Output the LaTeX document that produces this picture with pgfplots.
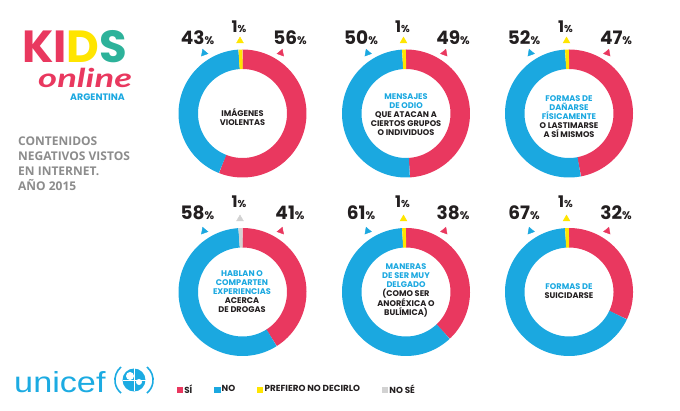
\documentclass[border=0pt]{standalone}
\usepackage{fontspec}
\usepackage{graphicx}
\usepackage{pgfplots}
\pgfplotsset{compat=1.18}
\setmainfont{Poppins}
\newfontfamily\osans{Open Sans}
\newfontfamily\lsans{Liberation Sans}
\newfontfamily\latof{Lato}
\definecolor{cred}{HTML}{E9385F}
\definecolor{cblue}{HTML}{1BA8E0}
\definecolor{cyel}{HTML}{FFE500}
\definecolor{cgray}{HTML}{D2D2D2}
\definecolor{cteal}{HTML}{2DB29A}
\definecolor{cdark}{HTML}{231F20}
\definecolor{ctitle}{HTML}{8C8C8C}
\definecolor{cuni}{HTML}{1CABE2}
% donut: cx, cy, end of SI, end of NO, colour of last slice
\newcommand{\donut}[5]{%
\addplot[forget plot, cred, line width=19.5pt, domain=0:#3, samples=90, variable=\t, no marks] ({#1+54.25*sin(3.6*t)},{#2-54.25*cos(3.6*t)});
\addplot[forget plot, cblue, line width=19.5pt, domain=#3:#4, samples=90, variable=\t, no marks] ({#1+54.25*sin(3.6*t)},{#2-54.25*cos(3.6*t)});
\addplot[forget plot, #5, line width=19.5pt, domain=#4:100, samples=4, variable=\t, no marks] ({#1+54.25*sin(3.6*t)},{#2-54.25*cos(3.6*t)});
}
\newcommand{\pbig}[1]{{\bfseries\fontsize{18.5}{18.5}\selectfont #1\fontsize{11}{11}\selectfont\%}}
\newcommand{\psmall}[1]{{\bfseries\fontsize{16}{16}\selectfont #1\fontsize{10}{10}\selectfont\%}}
\newcommand{\bl}[1]{\textcolor{cblue}{#1}}
\begin{document}
\begin{tikzpicture}
\useasboundingbox (0,0) rectangle (680pt,411pt);
\begin{axis}[
  at={(0,0)}, anchor=south west,
  width=680pt, height=411pt, scale only axis,
  xmin=0, xmax=680, ymin=0, ymax=411, y dir=reverse,
  hide axis, clip=false,
  legend style={at={(axis cs:176.5,389.5)}, anchor=west, draw=none, fill=none,
    legend columns=4, font=\bfseries\fontsize{8.8}{9}\selectfont, text=cdark,
    inner sep=0pt, nodes={inner sep=0.8pt},
    /tikz/every odd column/.append style={column sep=1pt},
    /tikz/every even column/.append style={column sep=21pt}},
  legend cell align=left,
  legend image code/.code={\fill[#1] (0pt,-2.7pt) rectangle (5.4pt,2.7pt);},
]
\addlegendimage{cred}\addlegendentry{SÍ}
\addlegendimage{cblue}\addlegendentry{NO}
\addlegendimage{cyel}\addlegendentry{PREFIERO NO DECIRLO}
\addlegendimage{cgray}\addlegendentry{NO SÉ}

% donuts: SI, NO(cumulative), other
\donut{242.5}{113.5}{56}{99}{cyel}
\donut{406}{113.5}{49}{99}{cyel}
\donut{569}{113.5}{47}{99}{cyel}
\donut{242.5}{292}{41}{99}{cgray}
\donut{406}{292}{38}{99}{cyel}
\donut{569}{292}{32}{99}{cyel}

% pointer triangles
\addplot[forget plot, only marks, mark=triangle*, mark size=4pt, color=cblue, mark options={rotate=-100}]
  coordinates {(204,53) (367.5,53) (530.5,53) (204,231) (367.5,231) (530.5,231)};
\addplot[forget plot, only marks, mark=triangle*, mark size=4pt, color=cred, mark options={rotate=100}]
  coordinates {(281,53) (444.5,53) (607.5,53) (281,231) (444.5,231) (607.5,231)};
\addplot[forget plot, only marks, mark=triangle*, mark size=4pt, color=cyel]
  coordinates {(240,41) (403.5,41) (566.5,41) (403.5,219) (566.5,219)};
\addplot[forget plot, only marks, mark=triangle*, mark size=4pt, color=cgray]
  coordinates {(240,219)};

% percentage labels
\begin{scope}[every node/.style={anchor=base, text=cdark, inner sep=0pt}]
\node at (axis cs:197.5,45) {\pbig{43}};
\node at (axis cs:290,45) {\pbig{56}};
\node at (axis cs:239,33) {\psmall{1}};
\node at (axis cs:361,45) {\pbig{50}};
\node at (axis cs:453,45) {\pbig{49}};
\node at (axis cs:402.5,33) {\psmall{1}};
\node at (axis cs:524,45) {\pbig{52}};
\node at (axis cs:616,45) {\pbig{47}};
\node at (axis cs:565.5,33) {\psmall{1}};
\node at (axis cs:197.5,220) {\pbig{58}};
\node at (axis cs:290,220) {\pbig{41}};
\node at (axis cs:239,208) {\psmall{1}};
\node at (axis cs:361,220) {\pbig{61}};
\node at (axis cs:453,220) {\pbig{38}};
\node at (axis cs:402.5,208) {\psmall{1}};
\node at (axis cs:524,220) {\pbig{67}};
\node at (axis cs:616,220) {\pbig{32}};
\node at (axis cs:565.5,208) {\psmall{1}};
\end{scope}

% centre texts
\begin{scope}[every node/.style={align=center, text=cdark, inner sep=0pt, font=\bfseries\fontsize{8.2}{9}\selectfont}]
\node at (axis cs:242.5,117.5) {IMÁGENES\\VIOLENTAS};
\node at (axis cs:406,115) {\bl{MENSAJES}\\\bl{DE ODIO}\\QUE ATACAN A\\CIERTOS GRUPOS\\O INDIVIDUOS};
\node at (axis cs:569,117) {\bl{FORMAS DE}\\\bl{DAÑARSE}\\\bl{FÍSICAMENTE}\\O LASTIMARSE\\A SÍ MISMOS};
\node at (axis cs:242,291.5) {\bl{HABLAN O}\\\bl{COMPARTEN}\\\bl{EXPERIENCIAS}\\ACERCA\\DE DROGAS};
\node at (axis cs:406,290.5) {\bl{MANERAS}\\\bl{DE SER MUY}\\\bl{DELGADO}\\(COMO SER\\ANORÉXICA O\\BULÍMICA)};
\node at (axis cs:569,291.5) {\bl{FORMAS DE}\\SUICIDARSE};
\end{scope}

% title
\node[anchor=north west, align=left, text=ctitle, inner sep=0pt, font=\osans\bfseries\fontsize{12}{15}\selectfont] at (axis cs:18,137)
  {CONTENIDOS\\NEGATIVOS VISTOS\\EN INTERNET.\\AÑO 2015};

% Kids online logo (one node: KIDS with "online" set below it)
\node[anchor=base west, inner sep=0pt] at (axis cs:22,63)
  {\rlap{\hspace{16pt}\raisebox{-25pt}{\textcolor{cred}{\latof\bfseries\itshape\fontsize{26}{26}\selectfont\scalebox{1.4}[1]{online}}}}%
   {\bfseries\fontsize{45}{45}\selectfont\textcolor{cred}{KI}\textcolor{cyel}{D}\textcolor{cteal}{S}}};
\node[anchor=base west, inner sep=0pt, text=cblue, font=\bfseries\fontsize{9.4}{9.4}\selectfont] at (axis cs:70,100.5) {ARGENTINA};

% unicef logo
\node[anchor=base west, inner sep=0pt, text=cuni, xscale=1.18, font=\lsans\fontsize{29}{29}\selectfont] at (axis cs:14,393) {unicef};
\fill[cuni] (axis cs:134,380) circle[radius=11.5pt];
\draw[white, line width=0.8pt] (axis cs:134,368.5) -- (axis cs:134,391.5);
\draw[white, line width=0.8pt] (axis cs:122.5,380) -- (axis cs:145.5,380);
\fill[white] (axis cs:130,376) circle[radius=4pt];
\fill[white] (axis cs:139,382) circle[radius=3pt];
\draw[cuni, line width=1.6pt] (axis cs:121,367) arc[start angle=130, end angle=230, radius=17pt];
\draw[cuni, line width=1.6pt] (axis cs:147,367) arc[start angle=50, end angle=-50, radius=17pt];
\end{axis}
\end{tikzpicture}
\end{document}
